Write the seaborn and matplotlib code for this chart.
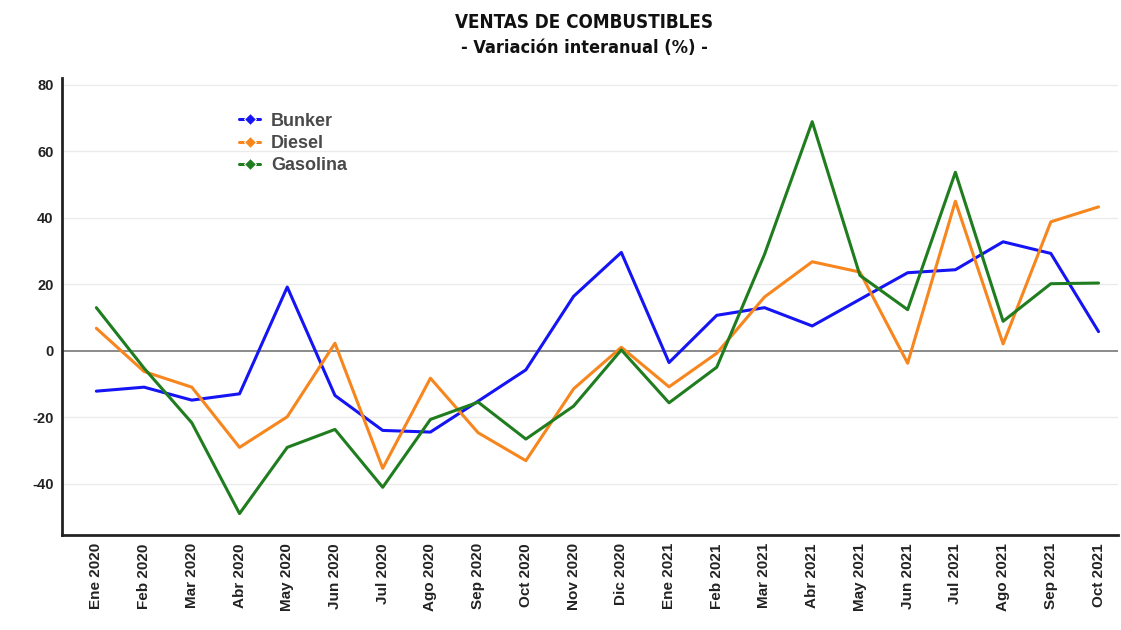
import pandas as pd
import numpy as np
import seaborn as sns
import matplotlib.pyplot as plt

# Data
meses = ["Ene 2020", "Feb 2020", "Mar 2020", "Abr 2020", "May 2020", "Jun 2020",
         "Jul 2020", "Ago 2020", "Sep 2020", "Oct 2020", "Nov 2020", "Dic 2020",
         "Ene 2021", "Feb 2021", "Mar 2021", "Abr 2021", "May 2021", "Jun 2021",
         "Jul 2021", "Ago 2021", "Sep 2021", "Oct 2021"]
bunker = [-12.1, -10.9, -14.8, -12.9, 19.2, -13.4, -23.9, -24.4, -15.1, -5.7, 16.4,
          29.6, -3.5, 10.7, 13.0, 7.5, 15.5, 23.5, 24.4, 32.8, 29.3, 5.8]
diesel = [6.8, -6.2, -10.9, -29.0, -19.8, 2.3, -35.3, -8.2, -24.6, -33.0, -11.4,
          1.1, -10.8, -0.7, 16.2, 26.8, 23.7, -3.7, 45.0, 2.1, 38.8, 43.3]
gasolina = [13.0, -5.2, -21.6, -48.9, -29.0, -23.6, -41.0, -20.6, -15.4, -26.5, -16.6,
            0.3, -15.6, -4.9, 29.0, 68.9, 22.7, 12.4, 53.7, 8.9, 20.2, 20.4]
series = ["Bunker", "Diesel", "Gasolina"]
colores = ["#1414f5", "#f7861e", "#1f7d1f"]

df = pd.DataFrame({"mes": meses, "Bunker": bunker, "Diesel": diesel, "Gasolina": gasolina})
df["idx"] = np.arange(len(meses))
largo = df.melt(id_vars=["mes", "idx"], value_vars=series, var_name="serie", value_name="valor")

sns.set_style("white")
plt.rcParams['font.family'] = ['Liberation Sans', 'DejaVu Sans']

fig = plt.figure(figsize=(11.21, 6.30), dpi=100)
ax = fig.add_axes([0.0553, 0.151, 0.9417, 0.725])

sns.lineplot(data=largo, x="idx", y="valor", hue="serie", palette=dict(zip(series, colores)),
             linewidth=2.2, ax=ax)

ax.set_xlim(-0.72, 21.4)
ax.set_ylim(-55.3, 82)
ax.set_yticks([-40, -20, 0, 20, 40, 60, 80])
ax.set_yticklabels([str(v) for v in [-40, -20, 0, 20, 40, 60, 80]], fontweight="bold",
                   fontsize=10.5, color="#222222")
ax.set_xticks(df["idx"])
ax.set_xticklabels(meses, rotation=90, fontweight="bold", fontsize=11, color="#222222")
ax.tick_params(axis="both", length=0, pad=6)
ax.set_xlabel("")
ax.set_ylabel("")

for v in [-40, -20, 20, 40, 60, 80]:
    ax.axhline(v, color="#ebebeb", linewidth=1, zorder=0)
ax.axhline(0, color="#777777", linewidth=1.2, zorder=1)

for s in ["top", "right"]:
    ax.spines[s].set_visible(False)
for s in ["left", "bottom"]:
    ax.spines[s].set_color("#222222")
    ax.spines[s].set_linewidth(2)

handles, labels = ax.get_legend_handles_labels()
for h in handles:
    h.set_marker("D")
    h.set_markersize(6.5)
leg = ax.legend(handles, labels, loc="upper left", bbox_to_anchor=(0.152, 0.96), frameon=False,
                prop={"weight": "bold", "size": 13}, handlelength=1.2, handletextpad=0.6,
                labelspacing=0.3)
for t in leg.get_texts():
    t.set_color("#4a4a4a")

fig.text(0.521, 0.965, "VENTAS DE COMBUSTIBLES", ha="center", va="center",
         fontweight="bold", fontsize=13.5, color="#111111", fontstretch="condensed",
         family=["DejaVu Sans"])
fig.text(0.521, 0.924, "- Variación interanual (%) -", ha="center", va="center",
         fontweight="bold", fontsize=13, color="#111111", fontstretch="condensed",
         family=["DejaVu Sans"])

fig.savefig("out.png", dpi=100)
